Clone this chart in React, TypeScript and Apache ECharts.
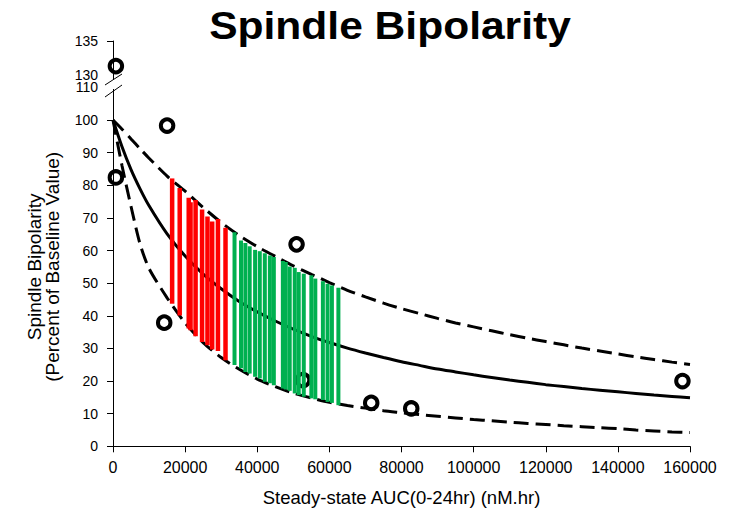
import React, { useEffect, useRef } from "react";
import * as echarts from "echarts";

const FONT = '"Liberation Sans", Arial, Helvetica, sans-serif';

// tick labels
const xTicks = [0, 20000, 40000, 60000, 80000, 100000, 120000, 140000, 160000];
const yTicksLow = [0, 10, 20, 30, 40, 50, 60, 70, 80, 90, 100];
const yLabelsLow = [0, 10, 20, 30, 40, 50, 60, 70, 80, 90, 100, 110];
const yTicksHigh = [135];
const yLabelsHigh = [130, 135];

// fitted curves
const curveX = [0, 2500, 5000, 7500, 10000, 15000, 20000, 25000, 30000, 35000, 40000, 45000, 50000, 55000, 60000, 65000, 70000, 75000, 80000, 85000, 90000, 95000, 100000, 105000, 110000, 115000, 120000, 125000, 130000, 135000, 140000, 145000, 150000, 155000, 160000];
const fitMid = [100, 91.8, 84.8, 78.9, 73.7, 65.1, 58.3, 52.8, 48.3, 44.4, 41.2, 38.4, 35.9, 33.7, 31.8, 30.1, 28.6, 27.2, 25.9, 24.8, 23.7, 22.8, 21.9, 21.1, 20.3, 19.6, 18.9, 18.3, 17.7, 17.2, 16.7, 16.2, 15.7, 15.3, 14.9];
const fitUpper = [100, 97.2, 94.2, 91.2, 88.3, 82.8, 78.2, 73.2, 68.6, 64.6, 61.2, 58.2, 55.3, 52.7, 50.2, 47.8, 45.8, 43.9, 42.2, 40.7, 39.2, 37.8, 36.6, 35.4, 34.2, 33.1, 32.1, 31.1, 30.1, 29.2, 28.3, 27.4, 26.6, 25.8, 25.1];
const fitLower = [100, 86, 73.5, 62, 54.5, 45.5, 37.8, 31.8, 27.2, 23.6, 20.6, 18.3, 16.3, 14.8, 13.5, 12.5, 11.7, 10.9, 10.3, 9.7, 9.2, 8.7, 8.2, 7.8, 7.4, 7.0, 6.7, 6.3, 6.0, 5.7, 5.4, 5.0, 4.7, 4.4, 4.2];

// observed points
const obsX = [800, 15000, 14200, 50900, 52700, 71600, 82700, 157900];
const obsY = [82.4, 98.3, 37.9, 61.9, 20.3, 13.3, 11.6, 20.0];
const obsHighX = [800];
const obsHighY = [131.3];

// red ranges
const redX = [16400, 18500, 21000, 21500, 22900, 24700, 26200, 27500, 29100, 31200];
const redLo = [43.7, 40.1, 36.1, 35.6, 33.7, 32.0, 31.0, 29.7, 29.2, 26.4];
const redHi = [82.1, 79.2, 76.2, 74.8, 75.5, 72.6, 70.4, 68.9, 69.7, 67.0];

// green ranges
const greenX = [33700, 35500, 36700, 37900, 39400, 40700, 42100, 43500, 44600, 47100, 47900, 49000, 50400, 51500, 52900, 55000, 56100, 58200, 59500, 60700, 62500];
const greenLo = [24.9, 23.9, 22.8, 22.3, 21.3, 20.8, 19.8, 19.3, 18.7, 17.7, 17.4, 17.0, 16.2, 15.7, 15.2, 14.7, 14.4, 14.2, 13.6, 13.3, 12.6];
const greenHi = [65.6, 63.1, 62.3, 61.3, 60.2, 59.8, 59.2, 58.5, 58.0, 56.8, 56.5, 55.1, 54.7, 53.4, 52.9, 52.4, 51.4, 50.6, 49.8, 49.3, 48.6];

const zip = (a: number[], b: number[]) => a.map((v, i) => [v, b[i]]);
const zip3 = (a: number[], b: number[], c: number[]) => a.map((v, i) => [v, b[i], c[i]]);

function rangeRender(color: string, w: number) {
  return (params: any, api: any) => {
    const x = api.value(0);
    const lo = api.value(1);
    const hi = api.value(2);
    const p1 = api.coord([x, hi]);
    const p2 = api.coord([x, lo]);
    return {
      type: "rect",
      shape: { x: p1[0] - w / 2, y: p1[1], width: w, height: p2[1] - p1[1] },
      style: { fill: color },
    };
  };
}

export default function App() {
  const ref = useRef<HTMLDivElement>(null);
  useEffect(() => {
    document.body.style.margin = "0";
    const chart = echarts.init(ref.current!, null, { renderer: "svg" });
    const axisLine = { show: true, lineStyle: { color: "#000", width: 1 } };
    const plain = (v: number) => String(v);
    const curve = (d: number[], dashed: boolean) => ({
      type: "line",
      xAxisIndex: 1,
      yAxisIndex: 1,
      data: zip(curveX, d),
      smooth: 0.25,
      showSymbol: false,
      lineStyle: dashed ? { color: "#000", width: 3, type: [15, 7] } : { color: "#000", width: 3 },
      z: 2,
    });
    const circles = { color: "rgba(255,255,255,0)", borderColor: "#000", borderWidth: 4, opacity: 1 };
    const option: any = {
      animation: false,
      backgroundColor: "#fff",
      textStyle: { fontFamily: FONT },
      grid: [
        { left: 113, right: 42, top: 41, height: 38 },
        { left: 113, right: 42, top: 87.4, bottom: 68.7 },
      ],
      xAxis: [
        { gridIndex: 0, type: "value", min: 0, max: 160000, show: false },
        {
          gridIndex: 1,
          type: "value",
          min: 0,
          max: 160000,
          interval: 20000,
          axisLine,
          axisTick: { show: true, length: 6, lineStyle: { color: "#000" }, customValues: xTicks },
          axisLabel: { color: "#000", fontSize: 16, margin: 13, fontFamily: FONT, customValues: xTicks, formatter: plain },
          splitLine: { show: false },
          name: "Steady-state AUC(0-24hr) (nM.hr)",
          nameLocation: "middle",
          nameGap: 42,
          nameTextStyle: { color: "#000", fontSize: 18.5, fontFamily: FONT },
        },
      ],
      yAxis: [
        {
          gridIndex: 0,
          type: "value",
          min: 129.4,
          max: 135,
          axisLine,
          axisTick: { show: true, length: 6, lineStyle: { color: "#000" }, customValues: yTicksHigh },
          axisLabel: { color: "#000", fontSize: 14, margin: 15, fontFamily: FONT, customValues: yLabelsHigh, formatter: plain },
          splitLine: { show: false },
        },
        {
          gridIndex: 1,
          type: "value",
          min: 0,
          max: 110,
          interval: 10,
          axisLine,
          axisTick: { show: true, length: 6, lineStyle: { color: "#000" }, customValues: yTicksLow },
          axisLabel: { color: "#000", fontSize: 14, margin: 15, fontFamily: FONT, customValues: yLabelsLow, formatter: plain },
          splitLine: { show: false },
          name: "Spindle Bipolarity\n(Percent of Baseline Value)",
          nameLocation: "middle",
          nameGap: 52,
          nameTextStyle: { color: "#000", fontSize: 19, lineHeight: 18, fontFamily: FONT },
        },
      ],
      graphic: [
        {
          type: "text",
          x: 390,
          y: 7,
          scaleX: 1.12,
          style: {
            text: "Spindle Bipolarity",
            fontSize: 38,
            fontWeight: "bold",
            fontFamily: FONT,
            fill: "#000",
            textAlign: "center",
            textVerticalAlign: "top",
          },
        },
        { type: "rect", shape: { x: 110, y: 80, width: 6, height: 9 }, style: { fill: "#fff" }, z: 100 },
        { type: "line", shape: { x1: 105, y1: 85, x2: 122, y2: 74 }, style: { stroke: "#000", lineWidth: 1 }, z: 101 },
        { type: "line", shape: { x1: 105, y1: 97, x2: 122, y2: 85 }, style: { stroke: "#000", lineWidth: 1 }, z: 101 },
      ],
      series: [
        curve(fitUpper, true),
        curve(fitMid, false),
        curve(fitLower, true),
        {
          type: "scatter",
          xAxisIndex: 1,
          yAxisIndex: 1,
          data: zip(obsX, obsY),
          symbol: "circle",
          symbolSize: 12.5,
          itemStyle: circles,
          z: 3,
        },
        {
          type: "scatter",
          xAxisIndex: 0,
          yAxisIndex: 0,
          data: zip(obsHighX, obsHighY),
          symbol: "circle",
          symbolSize: 12.5,
          itemStyle: circles,
          z: 3,
        },
        {
          type: "custom",
          xAxisIndex: 1,
          yAxisIndex: 1,
          data: zip3(redX, redLo, redHi),
          encode: { x: 0, y: [1, 2] },
          renderItem: rangeRender("#ff0000", 4.5),
          z: 4,
        },
        {
          type: "custom",
          xAxisIndex: 1,
          yAxisIndex: 1,
          data: zip3(greenX, greenLo, greenHi),
          encode: { x: 0, y: [1, 2] },
          renderItem: rangeRender("#00b050", 4),
          z: 4,
        },
      ],
    };
    chart.setOption(option);
    return () => chart.dispose();
  }, []);
  return <div ref={ref} style={{ width: 732, height: 515 }} />;
}
